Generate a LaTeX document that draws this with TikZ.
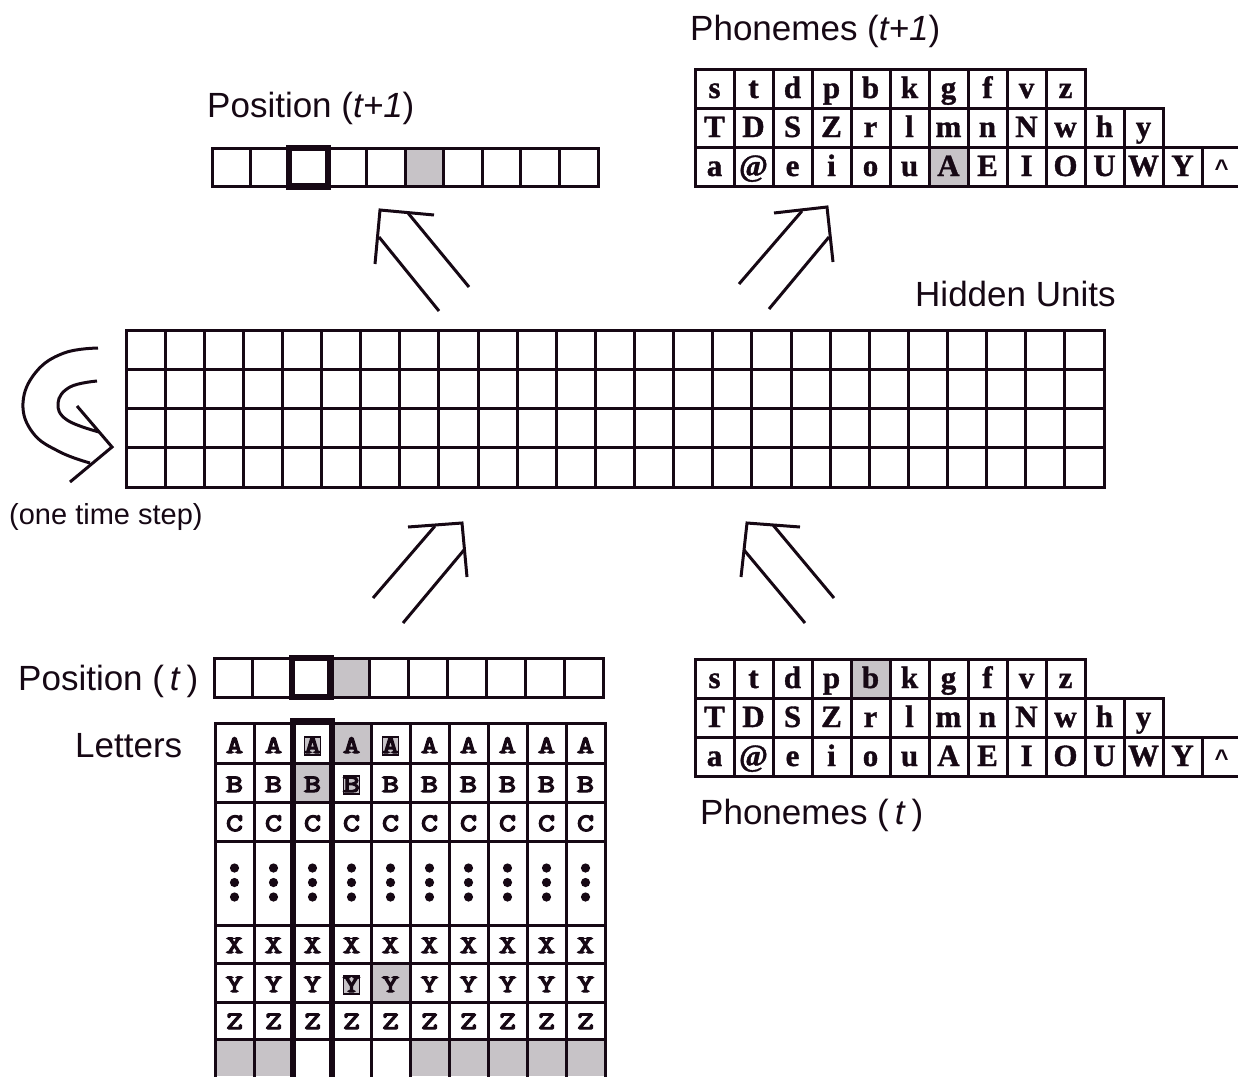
\documentclass[tikz,border=0pt]{standalone}
\usepackage{fontspec}
\setmainfont{Liberation Sans}
\newfontfamily\phfont[FakeBold=1.2]{Liberation Serif}
\newfontfamily\letfont[FakeBold=5, FakeStretch=1.3]{lmmono10-regular.otf}
\definecolor{ink}{RGB}{22,8,20}
\definecolor{cellgray}{RGB}{199,195,199}
\tikzset{
  cell/.style={draw=ink, line width=3pt},
  thickcell/.style={draw=ink, line width=6.5pt},
  shade/.style={fill=cellgray},
  lbl/.style={inner sep=0pt, anchor=base west, text=ink, font=\fontsize{35}{40}\selectfont},
  phl/.style={inner sep=0pt, anchor=base, text=ink, font={\phfont\bfseries\fontsize{31}{33}\selectfont}},
  ltl/.style={inner sep=0pt, anchor=base, text=ink, font={\letfont\fontsize{25}{28}\selectfont}},
  hlbox/.style={fill=cellgray, draw=ink, line width=1.5pt},
  arr/.style={draw=ink, line width=3pt},
  dotm/.style={fill=ink}
}
\begin{document}
\begin{tikzpicture}[x=1pt,y=-1pt]
\useasboundingbox (0,0) rectangle (1238,1076);

% ---------- labels ----------
\node[lbl] (lphn1) at (690,40) {Phonemes (\textit{t+1})};
\node[lbl] (lpos1) at (207,117) {Position (\textit{t+1})};
\node[lbl] (lhid) at (915,306) {Hidden Units};
\node[lbl, font=\fontsize{29}{32}\selectfont] (lstep) at (9,524) {(one time step)};
\node[lbl] (lpos0) at (18,690) {Position (\,\textit{t}\,)};
\node[lbl] (llet) at (75,757) {Letters};
\node[lbl] (lphn0) at (700,824) {Phonemes (\,\textit{t}\,)};

% ---------- top phoneme table ----------
\fill[shade] (929,147) rectangle +(39,39);
\foreach \l [count=\i from 0] in {s,t,d,p,b,k,g,f,v,z}
  {\draw[cell] ({695+39*\i},69) rectangle +(39,39);
   \node[phl] (ta\i) at ({714.5+39*\i},98) {\l};}
\foreach \l [count=\i from 0] in {T,D,S,Z,r,l,m,n,N,w,h,y}
  {\draw[cell] ({695+39*\i},108) rectangle +(39,39);
   \node[phl] (tb\i) at ({714.5+39*\i},137) {\l};}
\foreach \l [count=\i from 0] in {a,@,e,i,o,u,A,E,I,O,U,W,Y,{\rmfamily\bfseries\fontsize{24}{26}\selectfont\textasciicircum}}
  {\draw[cell] ({695+39*\i},147) rectangle +(39,39);
   \node[phl] (tc\i) at ({714.5+39*\i},176) {\l};}

% ---------- bottom phoneme table ----------
\fill[shade] (851,659) rectangle +(39,39);
\foreach \l [count=\i from 0] in {s,t,d,p,b,k,g,f,v,z}
  {\draw[cell] ({695+39*\i},659) rectangle +(39,39);
   \node[phl] (ba\i) at ({714.5+39*\i},688) {\l};}
\foreach \l [count=\i from 0] in {T,D,S,Z,r,l,m,n,N,w,h,y}
  {\draw[cell] ({695+39*\i},698) rectangle +(39,39);
   \node[phl] (bb\i) at ({714.5+39*\i},727) {\l};}
\foreach \l [count=\i from 0] in {a,@,e,i,o,u,A,E,I,O,U,W,Y,{\rmfamily\bfseries\fontsize{24}{26}\selectfont\textasciicircum}}
  {\draw[cell] ({695+39*\i},737) rectangle +(39,39);
   \node[phl] (bc\i) at ({714.5+39*\i},766) {\l};}

% ---------- position (t+1) ----------
\fill[shade] ({212+38.6*5},148) rectangle +(38.6,38.5);
\foreach \i in {0,...,9}
  {\draw[cell] ({212+38.6*\i},148) rectangle +(38.6,38.5);}
\draw[thickcell] ({212+38.6*2},148) rectangle +(38.6,38.5);

% ---------- hidden units ----------
\foreach \c in {0,...,24}
  \foreach \r in {0,...,3}
    {\draw[cell] ({126+39.12*\c},{330+39.25*\r}) rectangle +(39.12,39.25);}

% ---------- recurrent arrow ----------
\draw[arr, line join=round] plot[smooth, tension=0.7] coordinates {(98,348) (64,353) (36,372) (23,403) (33,433) (60,452) (90,463)};
\draw[arr, line join=round] plot[smooth, tension=0.7] coordinates {(97,381) (70,387) (58,403) (67,420) (99,432)};
\draw[arr] (77,406) -- (112,447) -- (70,482);

% ---------- double arrows ----------
\draw[arr] (434,215) -- (380,210) -- (375,264);
\draw[arr] (379,237) -- (439,311);
\draw[arr] (408,213) -- (469,287);

\draw[arr] (774,213) -- (827,207) -- (833,262);
\draw[arr] (802,211) -- (739,284);
\draw[arr] (829,237) -- (769,309);

\draw[arr] (408,527) -- (462,523) -- (467,577);
\draw[arr] (435,526) -- (373,598);
\draw[arr] (464,550) -- (403,623);

\draw[arr] (800,527) -- (747,523) -- (741,577);
\draw[arr] (773,525) -- (834,598);
\draw[arr] (744,550) -- (805,623);

% ---------- position (t) ----------
\fill[shade] ({214+38.9*3},658) rectangle +(38.9,39);
\foreach \i in {0,...,9}
  {\draw[cell] ({214+38.9*\i},658) rectangle +(38.9,39);}
\draw[thickcell] ({214+38.9*2},658) rectangle +(38.9,39);

% ---------- letters grid ----------
\fill[shade] (332,723) rectangle +(39,40);
\fill[shade] (293,763) rectangle +(39,39);
\fill[shade] (371,963) rectangle +(39,39);
\foreach \c in {0,1,5,6,7,8,9}
  {\fill[shade] ({215+39*\c},1039) rectangle +(39,37);}
\foreach \c in {0,...,9}
  {\foreach \yt/\hh in {723/40,763/39,802/39,841/84,925/38,963/39,1002/37,1039/40}
     {\draw[cell] ({215+39*\c},\yt) rectangle +(39,\hh);}
   \fill[dotm] ({234.5+39*\c},868) circle (4.6);
   \fill[dotm] ({234.5+39*\c},882.5) circle (4.6);
   \fill[dotm] ({234.5+39*\c},897) circle (4.6);
  }
\draw[thickcell] (293,721) rectangle (332,1082);
% highlighted letter boxes
\draw[hlbox] ({312.5-8},737) rectangle +(16,18);
\draw[hlbox] ({390.5-8},737) rectangle +(16,18);
\draw[hlbox] ({351.5-8},776) rectangle +(16,18);
\draw[hlbox] ({351.5-8},976) rectangle +(16,18);
\foreach \l/\yb in {A/753,B/792,C/831,X/953,Y/992,Z/1029}
  {\foreach \c in {0,...,9}
     {\node[ltl] (g\l\c) at ({234.5+39*\c},\yb) {\l};}}
\end{tikzpicture}
\end{document}
